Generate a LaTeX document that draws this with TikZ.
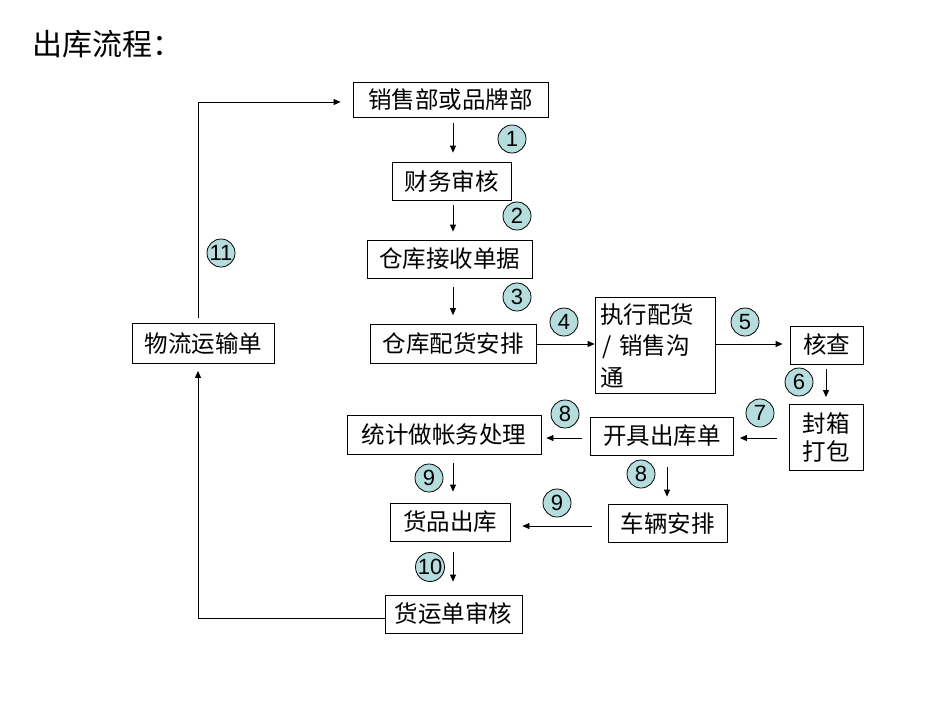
\documentclass[tikz,border=0pt]{standalone}
\usepackage{fontspec}
\setmainfont{Liberation Sans}
\newfontfamily\cjk{Noto Sans CJK SC}
\usetikzlibrary{arrows.meta}
\definecolor{numfill}{RGB}{182,221,222}
\tikzset{
  box/.style={draw, line width=0.8pt, inner sep=0pt, font=\cjk\fontsize{23.5}{30}\selectfont},
  num/.style={circle, draw, line width=0.8pt, fill=numfill, minimum size=28pt, inner sep=0pt, font=\fontsize{22}{22}\selectfont},
  arr/.style={line width=0.8pt, -{Triangle[length=7pt,width=6pt]}},
}
\begin{document}
\begin{tikzpicture}[x=1pt,y=-1pt]
\useasboundingbox (0,0) rectangle (950,713);
\node[anchor=west, inner sep=0pt, font=\cjk\fontsize{30}{32}\selectfont] (title) at (32,44) {出库流程：};

\node[box, minimum width=195pt, minimum height=35pt] (xs) at (450.5,99.5) {销售部或品牌部};
\node[box, minimum width=119pt, minimum height=38pt] (cw) at (451.5,181) {财务审核};
\node[box, minimum width=165pt, minimum height=38pt] (js) at (449.5,259) {仓库接收单据};
\node[box, minimum width=166pt, minimum height=39pt] (ph) at (453,344) {仓库配货安排};
\node[box, minimum width=120pt, minimum height=96pt, align=left, text width=110pt, font=\cjk\fontsize{23.5}{31.5}\selectfont] (zx) at (655,345.5) {执行配货\\\hspace*{2pt}/ 销售沟\\通};
\node[box, minimum width=73pt, minimum height=38pt] (hc) at (826.5,345) {核查};
\node[box, minimum width=74pt, minimum height=66pt, align=center, font=\cjk\fontsize{23.5}{28}\selectfont] (fx) at (826,437.5) {封箱\\打包};
\node[box, minimum width=143pt, minimum height=38pt] (kj) at (662,436) {开具出库单};
\node[box, minimum width=194pt, minimum height=39pt] (tj) at (444,434.5) {统计做帐务处理};
\node[box, minimum width=119pt, minimum height=38pt] (cl) at (667.5,523) {车辆安排};
\node[box, minimum width=120pt, minimum height=38pt] (hp) at (450,522) {货品出库};
\node[box, minimum width=137pt, minimum height=38pt] (hy) at (453.5,614) {货运单审核};
\node[box, minimum width=142pt, minimum height=40pt] (wl) at (203.5,343.5) {物流运输单};

% arrows
\draw[arr, shorten <=6pt, shorten >=9pt] (xs.south -| 453,0) -- (cw.north -| 453,0);
\draw[arr, shorten <=5pt, shorten >=8pt] (cw.south -| 453,0) -- (js.north -| 453,0);
\draw[arr, shorten <=9pt, shorten >=9pt] (js.south -| 453,0) -- (ph.north -| 453,0);
\draw[arr] (ph.east |- 0,344) -- (zx.west |- 0,344);
\draw[arr, shorten >=7pt] (zx.east |- 0,344) -- (hc.west |- 0,344);
\draw[arr, shorten <=5pt, shorten >=7pt] (hc.south -| 826,0) -- (fx.north -| 826,0);
\draw[arr, shorten <=12pt, shorten >=6pt] (fx.west |- 0,438) -- (kj.east |- 0,438);
\draw[arr, shorten <=8pt, shorten >=5pt] (kj.west |- 0,438) -- (tj.east |- 0,438);
\draw[arr, shorten <=12pt, shorten >=7pt] (kj.south -| 667,0) -- (cl.north -| 667,0);
\draw[arr, shorten <=16pt, shorten >=12pt] (cl.west |- 0,526) -- (hp.east |- 0,526);
\draw[arr, shorten <=9pt, shorten >=11pt] (tj.south -| 453,0) -- (hp.north -| 453,0);
\draw[arr, shorten <=11pt, shorten >=13pt] (hp.south -| 453,0) -- (hy.north -| 453,0);
\draw[arr, shorten >=7pt] (hy.west |- 0,618) -| (wl.south -| 198,0);
\draw[arr, shorten <=5pt, shorten >=12pt] (wl.north -| 198,0) |- (xs.west |- 0,102);

% numbers
\node[num] (n1) at (512,139) {1};
\node[num] (n2) at (517,216) {2};
\node[num] (n3) at (517,297) {3};
\node[num] (n4) at (564,322) {4};
\node[num] (n5) at (745,322) {5};
\node[num] (n6) at (799,382) {6};
\node[num] (n7) at (760,413) {7};
\node[num] (n8a) at (565,414) {8};
\node[num] (n8b) at (641,474) {8};
\node[num] (n9a) at (557,503) {9};
\node[num] (n9b) at (429,478) {9};
\node[num] (n10) at (430,567) {10};
\node[num] (n11) at (221,253) {11};
\end{tikzpicture}
\end{document}
